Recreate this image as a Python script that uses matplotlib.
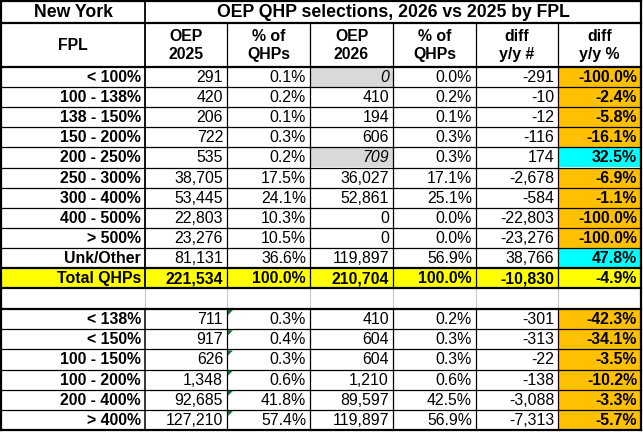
import matplotlib
matplotlib.use("Agg")
import matplotlib.pyplot as plt
from matplotlib.patches import Rectangle, Polygon

# ---------------- data ----------------
title_left = "New York"
title_main = "OEP QHP selections, 2026 vs 2025 by FPL"
headers = ["FPL", "OEP\n2025", "% of\nQHPs", "OEP\n2026", "% of\nQHPs", "diff\ny/y #", "diff\ny/y %"]

fpl = ["< 100%", "100 - 138%", "138 - 150%", "150 - 200%", "200 - 250%", "250 - 300%",
       "300 - 400%", "400 - 500%", "> 500%", "Unk/Other", "Total QHPs"]
oep2025 = [291, 420, 206, 722, 535, 38705, 53445, 22803, 23276, 81131, 221534]
pct2025 = [0.1, 0.2, 0.1, 0.3, 0.2, 17.5, 24.1, 10.3, 10.5, 36.6, 100.0]
oep2026 = [0, 410, 194, 606, 709, 36027, 52861, 0, 0, 119897, 210704]
pct2026 = [0.0, 0.2, 0.1, 0.3, 0.3, 17.1, 25.1, 0.0, 0.0, 56.9, 100.0]
diff_n = [-291, -10, -12, -116, 174, -2678, -584, -22803, -23276, 38766, -10830]
diff_pct = [-100.0, -2.4, -5.8, -16.1, 32.5, -6.9, -1.1, -100.0, -100.0, 47.8, -4.9]
estimated_2026 = [True, False, False, False, True, False, False, False, False, False, False]

fpl_b = ["< 138%", "< 150%", "100 - 150%", "100 - 200%", "200 - 400%", "> 400%"]
oep2025_b = [711, 917, 626, 1348, 92685, 127210]
pct2025_b = [0.3, 0.4, 0.3, 0.6, 41.8, 57.4]
oep2026_b = [410, 604, 604, 1210, 89597, 119897]
pct2026_b = [0.2, 0.3, 0.3, 0.6, 42.5, 56.9]
diff_n_b = [-301, -313, -22, -138, -3088, -7313]
diff_pct_b = [-42.3, -34.1, -3.5, -10.2, -3.3, -5.7]

# ---------------- layout ----------------
W, H = 643, 432
fig = plt.figure(figsize=(W / 100, H / 100), dpi=100)
ax = fig.add_axes([0, 0, 1, 1])
ax.set_xlim(0, W)
ax.set_ylim(H, 0)
ax.axis("off")

FONT = "Liberation Sans"
FS = 11.4
FS_T = 12.7
xs = [1, 145, 227, 310, 393, 476, 558, 641]
y_title = (1, 23)
y_head = (23, 67)
rh_top = 20.1
top_rows = [67 + rh_top * i for i in range(12)]          # 11 rows
blank = (top_rows[-1], 309)
rh_b = 20.2
bot_rows = [309 + rh_b * i for i in range(7)]              # 6 rows

ORANGE = "#FFC000"
CYAN = "#00FFFF"
YELLOW = "#FFFF00"
GREY = "#D9D9D9"
PAD = 4


def fill(x0, x1, y0, y1, color):
    ax.add_patch(Rectangle((x0, y0), x1 - x0, y1 - y0, facecolor=color, edgecolor="none", zorder=1))


def hline(y, x0, x1, lw=0.8, color="black"):
    ax.plot([x0, x1], [y, y], color=color, lw=lw, solid_capstyle="projecting", zorder=3)


def vline(x, y0, y1, lw=0.8, color="black"):
    ax.plot([x, x], [y0, y1], color=color, lw=lw, solid_capstyle="projecting", zorder=3)


def rtext(col, y0, y1, s, bold=False, italic=False):
    ax.text(xs[col + 1] - PAD, (y0 + y1) / 2 + 0.5, s, ha="right", va="center", fontsize=FS,
            family=FONT, weight="bold" if bold else "normal",
            style="italic" if italic else "normal", zorder=4)


def fmt_n(v):
    return f"{v:,}"


def fmt_p(v):
    return f"{v:.1f}%"


# fills
for i in range(11):
    y0, y1 = top_rows[i], top_rows[i + 1]
    if i == 10:
        fill(xs[0], xs[-1], y0, y1, YELLOW)
    else:
        fill(xs[6], xs[7], y0, y1, ORANGE if diff_pct[i] < 0 else CYAN)
        if estimated_2026[i]:
            fill(xs[3], xs[4], y0, y1, GREY)
for i in range(6):
    y0, y1 = bot_rows[i], bot_rows[i + 1]
    fill(xs[6], xs[7], y0, y1, ORANGE if diff_pct_b[i] < 0 else CYAN)

# title row
ax.text((xs[0] + xs[1]) / 2, sum(y_title) / 2 + 0.5, title_left, ha="center", va="center",
        fontsize=FS_T, family=FONT, weight="bold")
ax.text((xs[1] + xs[-1]) / 2, sum(y_title) / 2 + 0.5, title_main, ha="center", va="center",
        fontsize=FS_T, family=FONT, weight="bold")

# header
for c, h in enumerate(headers):
    ax.text((xs[c] + xs[c + 1]) / 2, sum(y_head) / 2 + 0.5, h, ha="center", va="center",
            fontsize=FS, family=FONT, weight="bold", linespacing=1.2)

# top data
for i in range(11):
    y0, y1 = top_rows[i], top_rows[i + 1]
    tot = (i == 10)
    rtext(0, y0, y1, fpl[i], bold=True)
    rtext(1, y0, y1, fmt_n(oep2025[i]), bold=tot)
    rtext(2, y0, y1, fmt_p(pct2025[i]), bold=tot)
    rtext(3, y0, y1, fmt_n(oep2026[i]), bold=tot, italic=estimated_2026[i])
    rtext(4, y0, y1, fmt_p(pct2026[i]), bold=tot)
    rtext(5, y0, y1, fmt_n(diff_n[i]), bold=tot)
    rtext(6, y0, y1, fmt_p(diff_pct[i]), bold=True)

# bottom data
for i in range(6):
    y0, y1 = bot_rows[i], bot_rows[i + 1]
    rtext(0, y0, y1, fpl_b[i], bold=True)
    rtext(1, y0, y1, fmt_n(oep2025_b[i]))
    rtext(2, y0, y1, fmt_p(pct2025_b[i]))
    rtext(3, y0, y1, fmt_n(oep2026_b[i]))
    rtext(4, y0, y1, fmt_p(pct2026_b[i]))
    rtext(5, y0, y1, fmt_n(diff_n_b[i]))
    rtext(6, y0, y1, fmt_p(diff_pct_b[i]), bold=True)
    # green error-indicator triangles
    xL = xs[2] + 1
    ax.add_patch(Polygon([[xL, y0 + 1], [xL + 5, y0 + 1], [xL, y0 + 6]], closed=True,
                         facecolor="#107030", edgecolor="none", zorder=5))

# grid lines
THIN = 0.9
THICK = 1.6
for y in top_rows[1:-2]:
    hline(y, xs[0], xs[-1], THIN)
for y in bot_rows[1:-1]:
    hline(y, xs[0], xs[-1], THIN)
for x in xs[2:-1]:
    vline(x, y_head[0], blank[0], THIN)
    vline(x, bot_rows[0], bot_rows[-1], THIN)
# blank row grey separators
for x in xs[1:-1]:
    vline(x, blank[0], blank[1], 0.8, "#C8C8C8")
# column 0 separator
vline(xs[1], y_title[0], blank[0], 1.3)
vline(xs[1], bot_rows[0], bot_rows[-1], 1.1)
# thick lines
for y in [y_title[0], y_title[1], y_head[1], top_rows[-2], top_rows[-1], bot_rows[0], bot_rows[-1]]:
    hline(y, xs[0], xs[-1], THICK)
vline(xs[0], y_title[0], bot_rows[-1], THICK)
vline(xs[-1], y_title[0], bot_rows[-1], THICK)

fig.savefig("out.png", dpi=100, facecolor="white")
